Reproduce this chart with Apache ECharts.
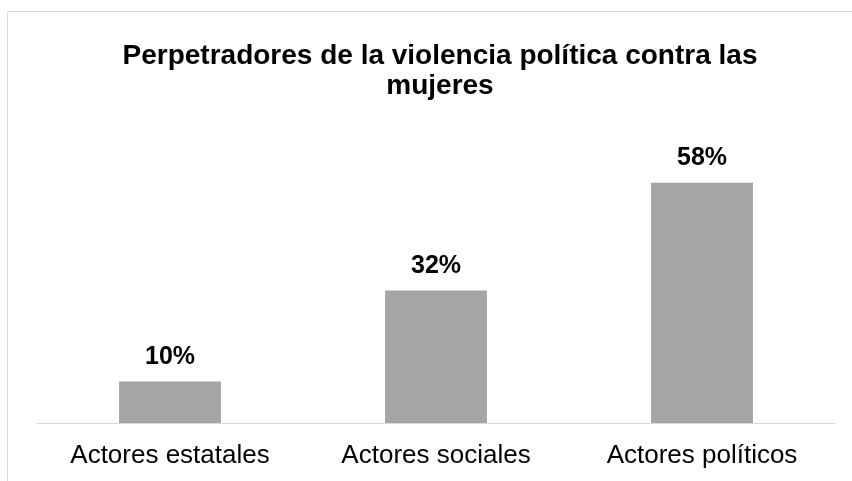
<!DOCTYPE html>
<html>
<head>
<meta charset="utf-8">
<script src="https://cdn.jsdelivr.net/npm/echarts@6/dist/echarts.min.js"></script>
<style>
html,body{margin:0;padding:0;background:#fff;}
#chart{width:852px;height:481px;}
</style>
</head>
<body>
<div id="chart"></div>
<script>
const titleText = 'Perpetradores de la violencia política contra las\nmujeres';
const categories = ['Actores estatales', 'Actores sociales', 'Actores políticos'];
const values = [10, 32, 58];

const FONT = '"Liberation Sans", Arial, Helvetica, sans-serif';
const chart = echarts.init(document.getElementById('chart'), null, {renderer: 'canvas'});
chart.setOption({
  animation: false,
  backgroundColor: '#ffffff',
  graphic: [{
    type: 'rect',
    shape: {x: 7.5, y: 11.5, width: 900, height: 600},
    style: {fill: 'none', stroke: '#d9d9d9', lineWidth: 1},
    silent: true,
    z: -10
  }],
  title: {
    text: titleText,
    left: 435,
    top: 36,
    textAlign: 'center',
    textStyle: {
      fontFamily: FONT,
      fontSize: 28,
      fontWeight: 'bold',
      color: '#000000',
      lineHeight: 30
    }
  },
  grid: {left: 37, right: 17, top: 133, bottom: 58, containLabel: false},
  xAxis: {
    type: 'category',
    data: categories,
    axisLine: {show: true, lineStyle: {color: '#d9d9d9', width: 1}},
    axisTick: {show: false},
    axisLabel: {
      color: '#000000',
      fontFamily: FONT,
      fontSize: 26,
      margin: 20,
      interval: 0
    }
  },
  yAxis: {
    type: 'value',
    min: 0,
    max: 70,
    show: false,
    splitLine: {show: false}
  },
  series: [{
    type: 'bar',
    data: values,
    barWidth: '38.3%',
    itemStyle: {color: '#a5a5a5'},
    label: {
      show: true,
      position: 'top',
      distance: 12,
      formatter: p => p.value + '%',
      fontFamily: FONT,
      fontSize: 25,
      fontWeight: 'bold',
      color: '#000000'
    }
  }]
});
</script>
</body>
</html>
